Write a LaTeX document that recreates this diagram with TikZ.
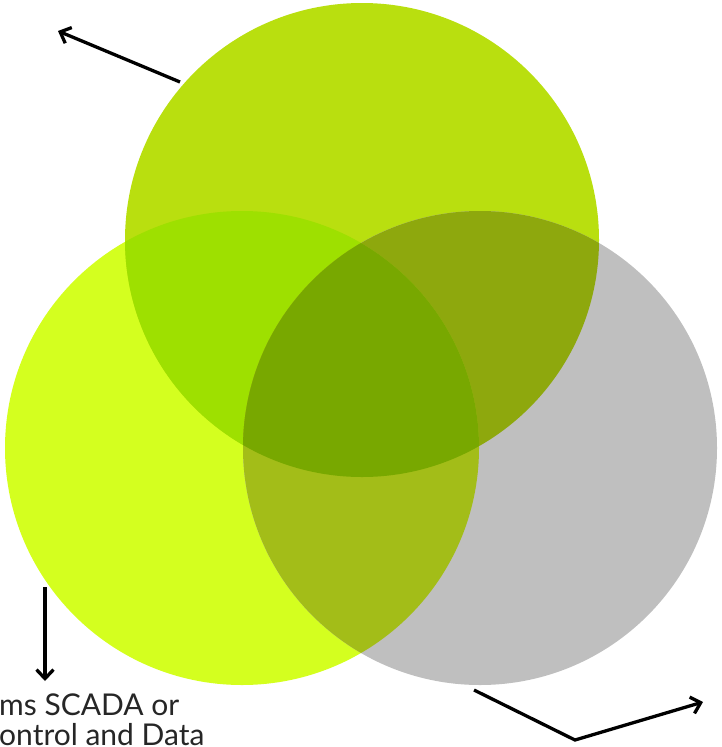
\documentclass[tikz,border=0pt]{standalone}
\usepackage{fontspec}
\setmainfont{Lato}
\usetikzlibrary{arrows.meta}
\definecolor{cTop}{HTML}{B9DF0F}
\definecolor{cLeft}{HTML}{D4FF1F}
\definecolor{cRight}{HTML}{BFBFBF}
\definecolor{cTL}{HTML}{9EE000}
\definecolor{cTR}{HTML}{8EA80D}
\definecolor{cLR}{HTML}{A3BD18}
\definecolor{cAll}{HTML}{78A800}
\tikzset{
  conn/.style={line width=3.3pt, draw=black, -{Straight Barb[length=9pt,width=17pt,line width=3.3pt]}},
  lbl/.style={font=\fontsize{30}{36}\selectfont, text=black!85, inner sep=0pt, anchor=base west}
}
\begin{document}
\begin{tikzpicture}[x=1pt,y=-1pt]
\useasboundingbox (0,0) rectangle (721,747);
\clip (0,0) rectangle (721,747);
\def\R{237}
\coordinate (ct) at (362,240);
\coordinate (cl) at (242,448);
\coordinate (cr) at (480,448);
% base circles
\fill[cLeft] (cl) circle (\R);
\fill[cTop] (ct) circle (\R);
\fill[cRight] (cr) circle (\R);
% pairwise
\begin{scope}\clip (ct) circle (\R); \fill[cTL] (cl) circle (\R);\end{scope}
\begin{scope}\clip (ct) circle (\R); \fill[cTR] (cr) circle (\R);\end{scope}
\begin{scope}\clip (cl) circle (\R); \fill[cLR] (cr) circle (\R);\end{scope}
\begin{scope}\clip (ct) circle (\R); \clip (cl) circle (\R); \fill[cAll] (cr) circle (\R);\end{scope}
% connectors
\coordinate (a1s) at (180,82);
\coordinate (a1e) at (58,31);
\draw[conn] (a1s) -- (a1e);
\coordinate (a2s) at (45,587);
\coordinate (a2e) at (45,681);
\draw[conn] (a2s) -- (a2e);
\coordinate (a3s) at (474,690);
\coordinate (a3m) at (575,740);
\coordinate (a3e) at (703,702);
\draw[conn, line join=miter] (a3s) -- (a3m) -- (a3e);
% labels
\node[lbl] (t1) at (-1,715) {ms SCADA or};
\node[lbl] (t2) at (-1,745) {ontrol and Data};
\end{tikzpicture}
\end{document}
